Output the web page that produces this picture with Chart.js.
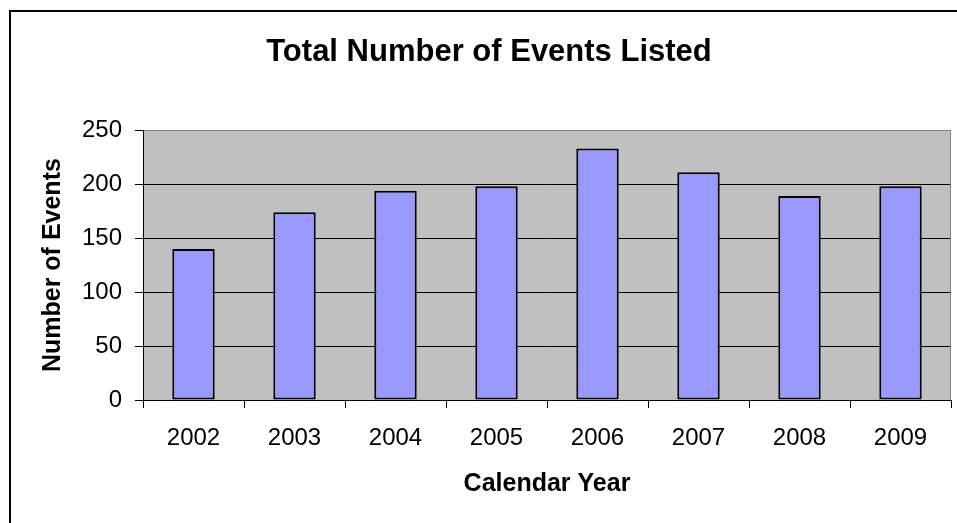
<!DOCTYPE html>
<html>
<head>
<meta charset="utf-8">
<title>Total Number of Events Listed</title>
<script src="https://cdn.jsdelivr.net/npm/chart.js@4/dist/chart.umd.min.js"></script>
<style>
  html, body { margin: 0; padding: 0; background: #fff; }
  canvas { display: block; }
</style>
</head>
<body>
<canvas id="eventsChart" width="957" height="523"></canvas>
<script>
const years = ["2002", "2003", "2004", "2005", "2006", "2007", "2008", "2009"];
const eventCounts = [140, 174, 194, 198, 233, 211, 189, 198];
const yTicks = [0, 50, 100, 150, 200, 250];

// gray plot background, gray right edge and the outer frame (left + top only, rest is cropped)
const frame = {
  id: "frame",
  beforeDraw(chart) {
    const { ctx, chartArea: a } = chart;
    ctx.save();
    ctx.fillStyle = "#c0c0c0";
    ctx.fillRect(a.left, a.top, a.right - a.left, a.bottom - a.top);
    ctx.restore();
  },
  afterDraw(chart) {
    const { ctx, chartArea: a } = chart;
    ctx.save();
    ctx.strokeStyle = "#808080";
    ctx.lineWidth = 1;
    ctx.beginPath();
    ctx.moveTo(a.right - 0.5, a.top);
    ctx.lineTo(a.right - 0.5, a.bottom);
    ctx.stroke();
    ctx.fillStyle = "#000";
    ctx.fillRect(9, 10, 2, chart.height);
    ctx.fillRect(9, 10, chart.width, 2);
    ctx.restore();
  }
};

new Chart(document.getElementById("eventsChart"), {
  type: "bar",
  data: {
    labels: years,
    datasets: [{
      label: "Events",
      data: eventCounts,
      backgroundColor: "#9999ff",
      borderColor: "#000",
      borderWidth: 2,
      borderSkipped: false,
      barPercentage: 0.42,
      categoryPercentage: 1
    }]
  },
  options: {
    responsive: false,
    devicePixelRatio: 1,
    animation: false,
    layout: { padding: { left: 27, right: 6, top: 0, bottom: 0 } },
    plugins: {
      legend: { display: false },
      tooltip: { enabled: false },
      title: {
        display: true,
        text: "Total Number of Events Listed",
        color: "#000",
        font: { family: "'Liberation Sans', Arial, sans-serif", size: 31, weight: "bold", lineHeight: 1.2 },
        padding: { top: 34, bottom: 59 }
      }
    },
    scales: {
      x: {
        grid: { display: true, drawOnChartArea: false, offset: true, tickLength: 8, color: "#000" },
        border: { color: "#000", width: 1 },
        ticks: {
          color: "#000",
          padding: 16,
          maxRotation: 0,
          font: { family: "'Liberation Sans', Arial, sans-serif", size: 24 }
        },
        title: {
          display: true,
          text: "Calendar Year",
          color: "#000",
          font: { family: "'Liberation Sans', Arial, sans-serif", size: 25, weight: "bold", lineHeight: 1.2 },
          padding: { top: 0, bottom: 24 }
        },
        afterFit(scale) { scale.height = 123; }
      },
      y: {
        min: 0,
        max: 250,
        afterBuildTicks(scale) { scale.ticks = yTicks.map(v => ({ value: v })); },
        grid: {
          color: ctx => (ctx.tick && ctx.tick.value === 250 ? "#808080" : "#000"),
          tickColor: "#000",
          tickLength: 8,
          lineWidth: 1
        },
        border: { color: "#000", width: 1 },
        ticks: {
          color: "#000",
          padding: 13,
          font: { family: "'Liberation Sans', Arial, sans-serif", size: 24 }
        },
        title: {
          display: true,
          text: "Number of Events",
          color: "#000",
          font: { family: "'Liberation Sans', Arial, sans-serif", size: 25, weight: "bold", lineHeight: 1.2 },
          padding: { top: 11, bottom: 0 }
        },
        afterFit(scale) { scale.width = 116; }
      }
    }
  },
  plugins: [frame]
});
</script>
</body>
</html>
